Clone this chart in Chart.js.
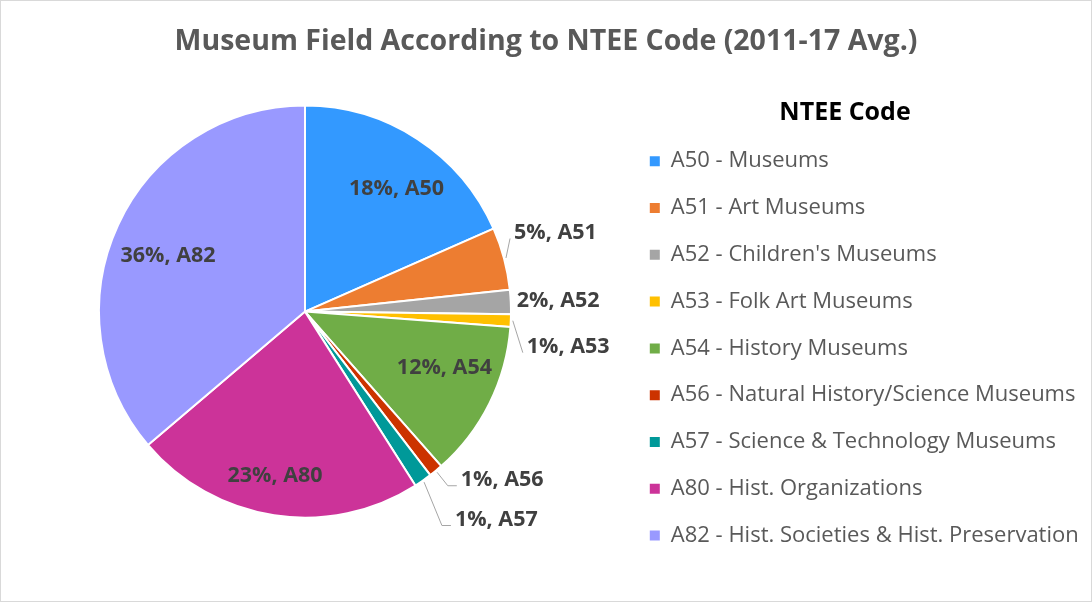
<!DOCTYPE html>
<html>
<head>
<meta charset="utf-8">
<script src="https://cdn.jsdelivr.net/npm/chart.js@4.4.0/dist/chart.umd.min.js"></script>
<style>
html,body{margin:0;padding:0;background:#fff;}
#wrap{width:1092px;height:602px;position:relative;}
</style>
</head>
<body>
<div id="wrap"><canvas id="c" width="1092" height="602"></canvas></div>
<script>
// ---- data ----
const chartTitle = 'Museum Field According to NTEE Code (2011-17 Avg.)';
const legendTitle = 'NTEE Code';
const codes = ['A50', 'A51', 'A52', 'A53', 'A54', 'A56', 'A57', 'A80', 'A82'];
const names = [
  'A50 - Museums',
  'A51 - Art Museums',
  "A52 - Children's Museums",
  'A53 - Folk Art Museums',
  'A54 - History Museums',
  'A56 - Natural History/Science Museums',
  'A57 - Science & Technology Museums',
  'A80 - Hist. Organizations',
  'A82 - Hist. Societies & Hist. Preservation'
];
const shares = [18.4, 4.9, 1.9, 1.0, 12.3, 1.1, 1.4, 22.8, 36.2];

// ---- styles ----
const colors = ['#3399FF', '#ED7D31', '#A5A5A5', '#FFC000', '#70AD47', '#CC3300', '#009999', '#CC3399', '#9999FF'];
const FONT = '"Open Sans", "Noto Sans", Lato, sans-serif';
// label placement relative to the outer mid point of each slice: [align, dx, dy, leader]
const labelPlace = [
  ['c', -21, 50, null],
  ['l', 10, -26, 'line'],
  ['l', 6, -1, null],
  ['l', 16, 26, 'line'],
  ['c', -45, -36, null],
  ['l', 25, 9, 'elbow'],
  ['l', 32, 39, 'elbow'],
  ['c', 1, -39, null],
  ['c', 50, 31, null]
];

const layoutPlugin = {
  id: 'layoutFix',
  afterLayout(chart) {
    const lg = chart.legend;
    const newLeft = 625, newTop = 100.5;
    lg.left = newLeft; lg.right = 1092; lg.width = 440;
    lg.top = newTop; lg.bottom = 602; lg.height = 602 - newTop;
    const ca = chart.chartArea;
    ca.left = 0; ca.right = 610; ca.width = 610;
  }
};

const framePlugin = {
  id: 'frame',
  beforeDraw(chart) {
    const ctx = chart.ctx;
    ctx.save();
    ctx.fillStyle = '#fff';
    ctx.fillRect(0, 0, chart.width, chart.height);
    ctx.restore();
  },
  afterDraw(chart) {
    const ctx = chart.ctx;
    ctx.save();
    ctx.strokeStyle = '#D9D9D9';
    ctx.lineWidth = 1;
    ctx.strokeRect(0.5, 0.5, chart.width - 1, chart.height - 1);
    ctx.restore();
  }
};

const labelPlugin = {
  id: 'sliceLabels',
  afterDatasetsDraw(chart) {
    const meta = chart.getDatasetMeta(0);
    const ctx = chart.ctx;
    const total = shares.reduce((a, b) => a + b, 0);
    ctx.save();
    ctx.font = 'bold 21.5px ' + FONT;
    ctx.textBaseline = 'middle';
    meta.data.forEach((arc, i) => {
      const p = arc.getProps(['x', 'y', 'startAngle', 'endAngle', 'outerRadius'], true);
      const mid = (p.startAngle + p.endAngle) / 2;
      const ox = p.x + Math.cos(mid) * p.outerRadius;
      const oy = p.y + Math.sin(mid) * p.outerRadius;
      const [align, dx, dy, leader] = labelPlace[i];
      const lx = ox + dx, ly = oy + dy;
      const text = Math.round(shares[i] / total * 100) + '%, ' + codes[i];
      if (leader) {
        const sx = p.x + Math.cos(mid) * (p.outerRadius + 2);
        const sy = p.y + Math.sin(mid) * (p.outerRadius + 2);
        ctx.strokeStyle = '#A6A6A6';
        ctx.lineWidth = 1;
        ctx.beginPath();
        ctx.moveTo(sx, sy);
        const ex = lx - 4, ey = ly + 6;
        if (leader === 'elbow') {
          ctx.lineTo(ex - 9, ey);
        }
        ctx.lineTo(ex, ey);
        ctx.stroke();
      }
      ctx.fillStyle = '#404040';
      ctx.textAlign = align === 'c' ? 'center' : 'left';
      ctx.fillText(text, lx, ly);
    });
    ctx.restore();
  }
};

new Chart(document.getElementById('c'), {
  type: 'pie',
  data: {
    labels: names,
    datasets: [{
      data: shares,
      backgroundColor: colors,
      borderColor: '#FFFFFF',
      borderWidth: 2
    }]
  },
  options: {
    responsive: false,
    animation: false,
    devicePixelRatio: 1,
    radius: 206,
    layout: { padding: { top: 10, bottom: 42, left: 0, right: 0 } },
    plugins: {
      tooltip: { enabled: false },
      title: {
        display: true,
        text: chartTitle,
        color: '#595959',
        font: { family: FONT, size: 28.5, weight: 'bold', lineHeight: 1.2 },
        padding: { top: 15, bottom: 4 }
      },
      legend: {
        display: true,
        position: 'right',
        align: 'start',
        title: {
          display: true,
          text: legendTitle,
          color: '#000000',
          font: { family: FONT, size: 25, weight: 'bold', lineHeight: 0.9 },
          padding: { top: 0, bottom: 2.4 }
        },
        labels: {
          color: '#595959',
          font: { family: FONT, size: 22 },
          boxWidth: 10,
          boxHeight: 10,
          padding: 24.8,
          generateLabels(chart) {
            return Chart.overrides.pie.plugins.legend.labels.generateLabels(chart)
              .map(l => Object.assign(l, { lineWidth: 0 }));
          }
        }
      }
    }
  },
  plugins: [framePlugin, layoutPlugin, labelPlugin]
});
</script>
</body>
</html>
